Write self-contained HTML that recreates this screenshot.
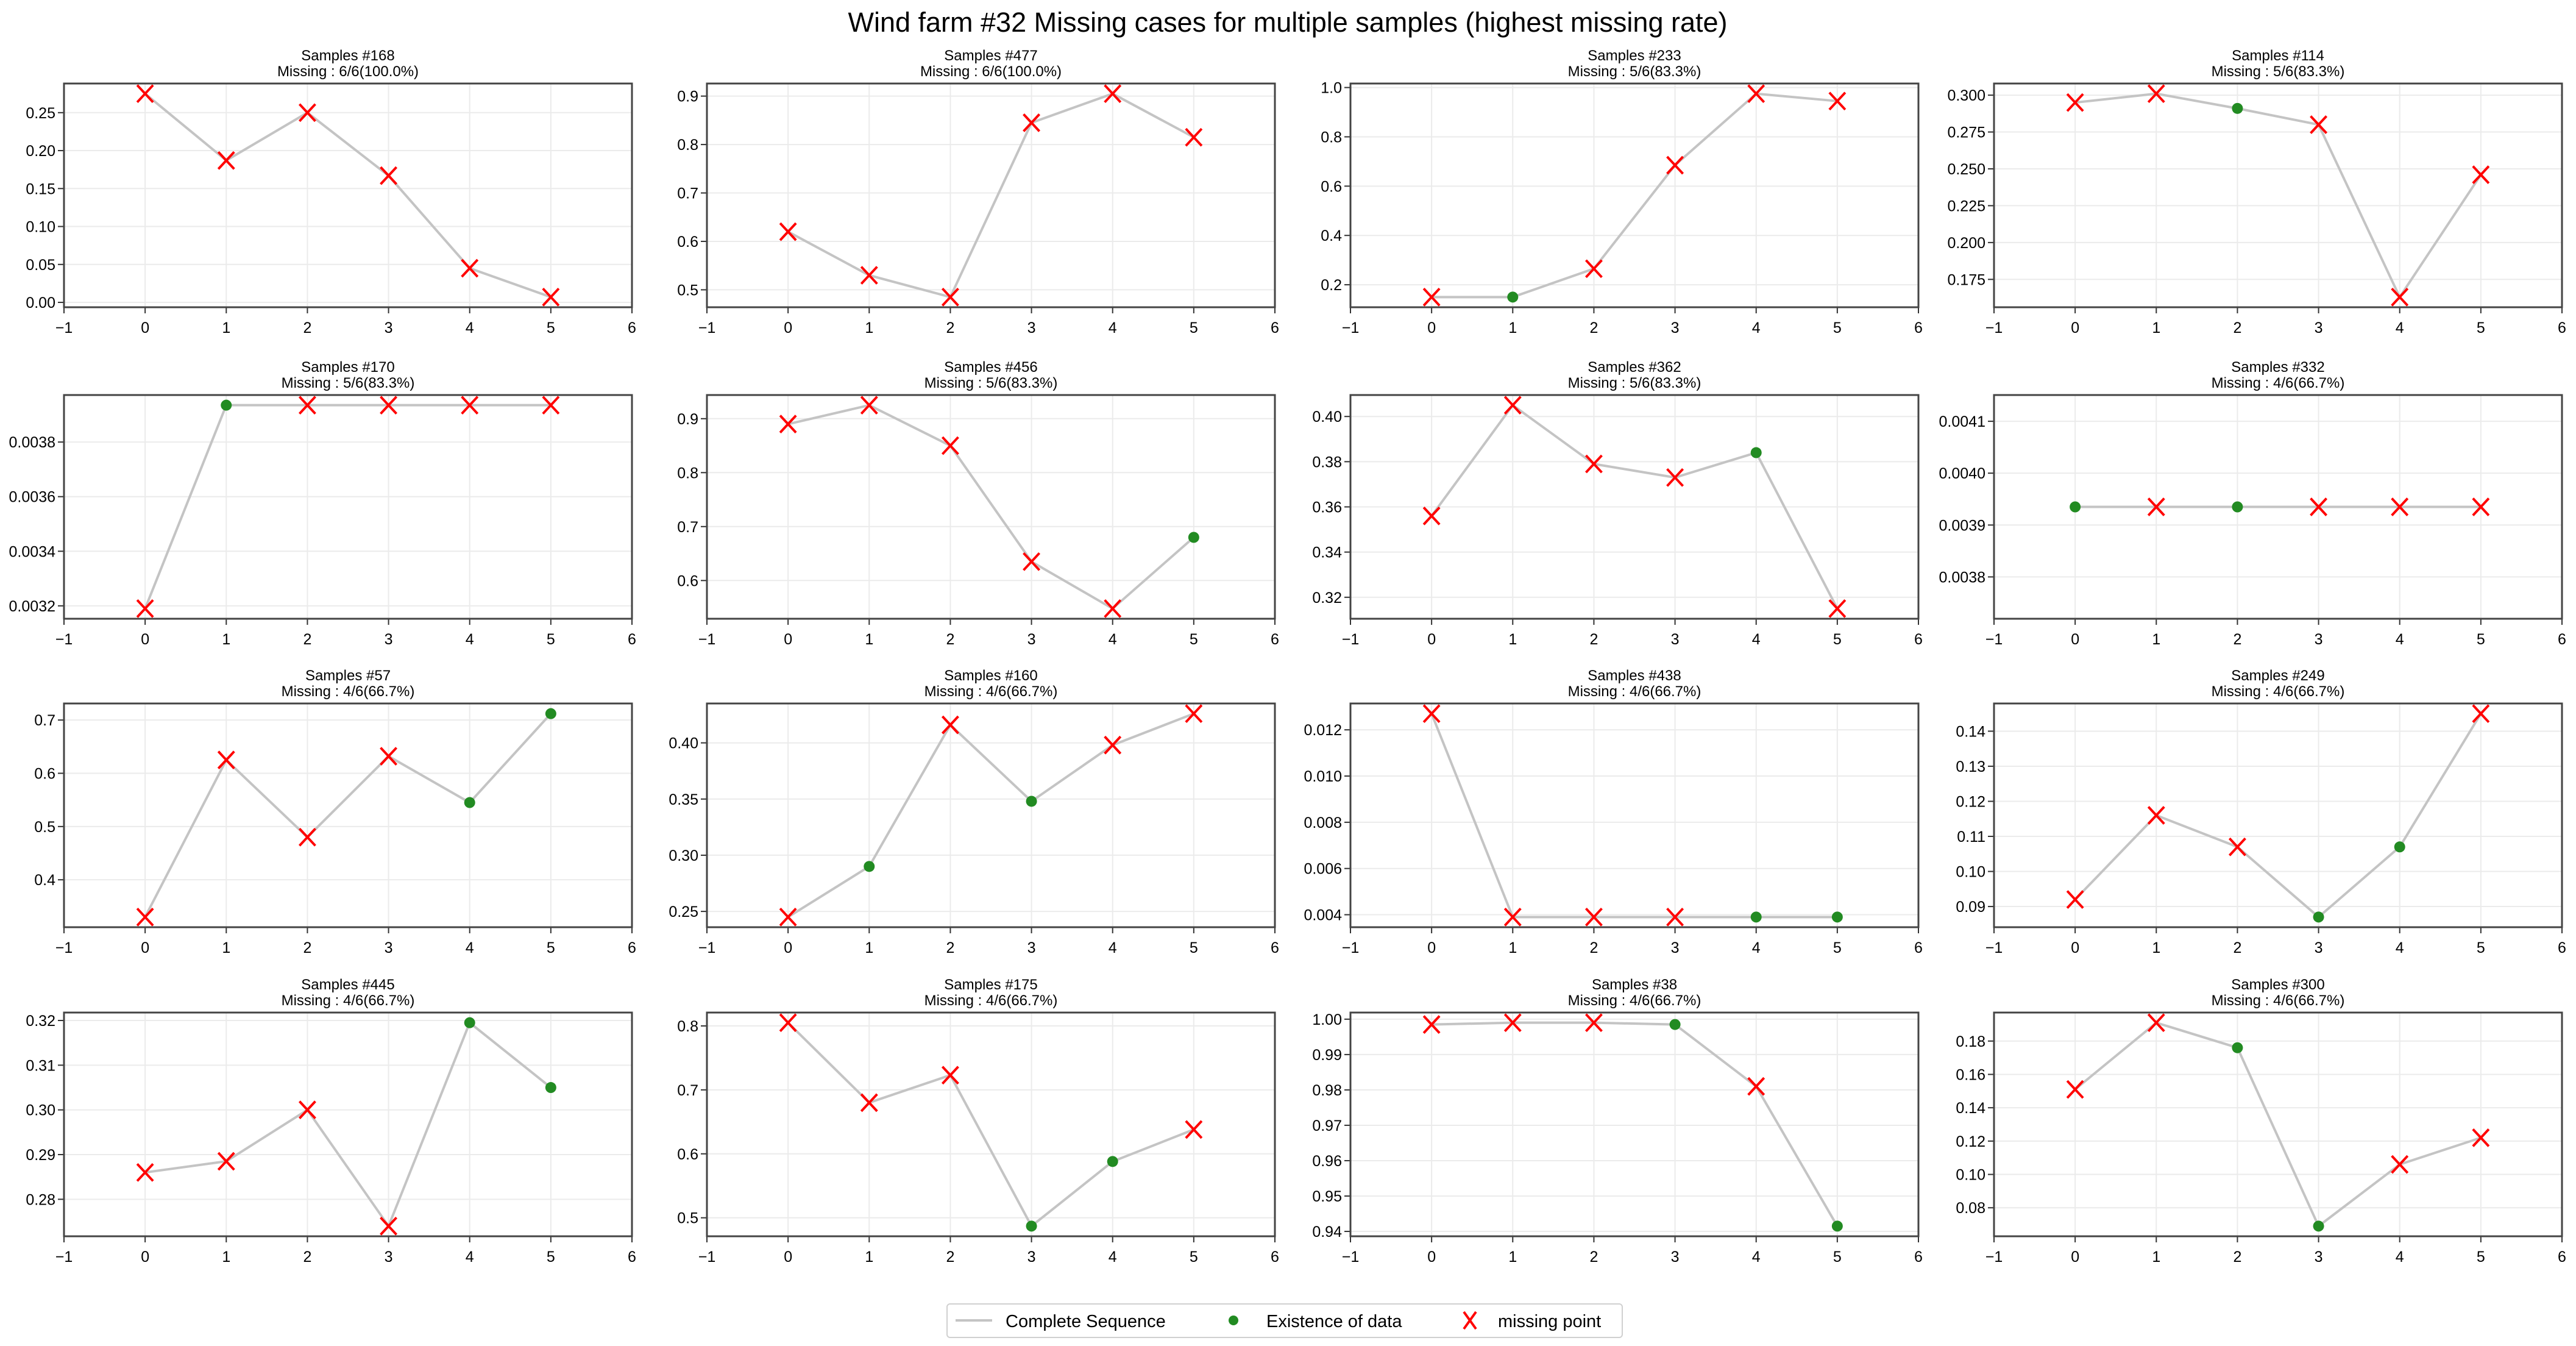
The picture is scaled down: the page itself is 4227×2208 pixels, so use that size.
<!DOCTYPE html>
<html><head><meta charset="utf-8">
<style>
html,body{margin:0;padding:0;background:#fff;}
svg{display:block;font-family:"Liberation Sans",sans-serif;}
</style></head>
<body>
<svg id="fig" width="4227" height="2208" viewBox="0 0 4227 2208" xmlns="http://www.w3.org/2000/svg">
<rect width="4227" height="2208" fill="#fff"/>
<text x="2113" y="52" text-anchor="middle" font-size="45" fill="#000">Wind farm #32 Missing cases for multiple samples (highest missing rate)</text>
<g>
<rect x="1554" y="2139" width="1108" height="55" rx="5" fill="#fff" stroke="#d0d0d0" stroke-width="2"/>
<line x1="1568" y1="2166" x2="1628" y2="2166" stroke="#c4c4c4" stroke-width="4"/>
<text x="1650" y="2177" font-size="29">Complete Sequence</text>
<circle cx="2024" cy="2166" r="8" fill="#228B22"/>
<text x="2078" y="2177" font-size="29">Existence of data</text>
<path d="M2402 2152 L2422 2180 M2422 2152 L2402 2180" stroke="#ff0000" stroke-width="4"/>
<text x="2458" y="2177" font-size="29">missing point</text>
</g>
<g id="plots"></g>
</svg>
<script>
const sampleIds = [168,477,233,114,170,456,362,332,57,160,438,249,445,175,38,300];
const missingLabels = ["6/6(100.0%)","6/6(100.0%)","5/6(83.3%)","5/6(83.3%)","5/6(83.3%)","5/6(83.3%)","5/6(83.3%)","4/6(66.7%)","4/6(66.7%)","4/6(66.7%)","4/6(66.7%)","4/6(66.7%)","4/6(66.7%)","4/6(66.7%)","4/6(66.7%)","4/6(66.7%)"];
const xTicks = [-1,0,1,2,3,4,5,6];
const values0 = [0.275,0.187,0.250,0.167,0.045,0.007];
const values1 = [0.62,0.53,0.485,0.845,0.905,0.815];
const values2 = [0.15,0.15,0.265,0.685,0.975,0.945];
const values3 = [0.295,0.301,0.291,0.280,0.163,0.246];
const values4 = [0.00319,0.003935,0.003935,0.003935,0.003935,0.003935];
const values5 = [0.89,0.925,0.85,0.635,0.548,0.68];
const values6 = [0.356,0.405,0.379,0.373,0.384,0.315];
const values7 = [0.003935,0.003935,0.003935,0.003935,0.003935,0.003935];
const values8 = [0.33,0.625,0.48,0.632,0.545,0.712];
const values9 = [0.245,0.29,0.416,0.348,0.398,0.426];
const values10 = [0.0127,0.0039,0.0039,0.0039,0.0039,0.0039];
const values11 = [0.092,0.116,0.107,0.087,0.107,0.145];
const values12 = [0.286,0.2885,0.300,0.274,0.3195,0.305];
const values13 = [0.805,0.68,0.723,0.487,0.588,0.638];
const values14 = [0.9985,0.999,0.999,0.9985,0.981,0.9415];
const values15 = [0.151,0.191,0.176,0.069,0.106,0.122];
const allValues = [values0,values1,values2,values3,values4,values5,values6,values7,values8,values9,values10,values11,values12,values13,values14,values15];
const presentIdx = [[],[],[1],[2],[1],[5],[4],[0,2],[4,5],[1,3],[4,5],[3,4],[4,5],[3,4],[3,5],[2,3]];
const yTicks = [
 ["0.00","0.05","0.10","0.15","0.20","0.25"],
 ["0.5","0.6","0.7","0.8","0.9"],
 ["0.2","0.4","0.6","0.8","1.0"],
 ["0.175","0.200","0.225","0.250","0.275","0.300"],
 ["0.0032","0.0034","0.0036","0.0038"],
 ["0.6","0.7","0.8","0.9"],
 ["0.32","0.34","0.36","0.38","0.40"],
 ["0.0038","0.0039","0.0040","0.0041"],
 ["0.4","0.5","0.6","0.7"],
 ["0.25","0.30","0.35","0.40"],
 ["0.004","0.006","0.008","0.010","0.012"],
 ["0.09","0.10","0.11","0.12","0.13","0.14"],
 ["0.28","0.29","0.30","0.31","0.32"],
 ["0.5","0.6","0.7","0.8"],
 ["0.94","0.95","0.96","0.97","0.98","0.99","1.00"],
 ["0.08","0.10","0.12","0.14","0.16","0.18"]
];
const NS="http://www.w3.org/2000/svg";
const root=document.getElementById('plots');
function mk(tag,attrs,parent){const e=document.createElementNS(NS,tag);for(const k in attrs)e.setAttribute(k,attrs[k]);parent.appendChild(e);return e;}
const AX_W=932, AX_H=367;
const colLeft=[105,1160,2216,3272];
for(let p=0;p<16;p++){
  const col=p%4,row=Math.floor(p/4);
  const L=colLeft[col], T=[137,648,1154,1661][row];
  const vals=allValues[p];
  let mn=Math.min(...vals),mx=Math.max(...vals),y0,y1;
  if(mx-mn<1e-12){y0=mn*(1-0.0548);y1=mn*(1+0.0548);}else{const pad=(mx-mn)*0.05;y0=mn-pad;y1=mx+pad;}
  const xs=v=>L+(v+1)/7*AX_W;
  const ys=v=>T+AX_H-(v-y0)/(y1-y0)*AX_H;
  const g=mk('g',{},root);
  
  
  const t1=mk('text',{x:L+AX_W/2,y:T-38,'text-anchor':'middle','font-size':24},g);
  t1.textContent='Samples #'+sampleIds[p];
  
  
  const t2=mk('text',{x:L+AX_W/2,y:T-12,'text-anchor':'middle','font-size':24},g);
  t2.textContent='Missing : '+missingLabels[p];
  
  
  xTicks.forEach(v=>{const X=xs(v);
    const gl=mk('line',{x1:X,x2:X,y1:T,y2:T+AX_H,stroke:'#ebebeb','stroke-width':2},g);
    
    
    const tk=mk('line',{x1:X,x2:X,y1:T+AX_H,y2:T+AX_H+10,stroke:'#333','stroke-width':2},g);
    
    
    const tl=mk('text',{x:X,y:T+AX_H+42,'text-anchor':'middle','font-size':25},g);
    tl.textContent=(v<0?'\u2212':'')+Math.abs(v);
    
    
  });
  yTicks[p].forEach(s=>{const v=parseFloat(s);const Y=ys(v);
    const gl=mk('line',{x1:L,x2:L+AX_W,y1:Y,y2:Y,stroke:'#ebebeb','stroke-width':2},g);
    
    
    const tk=mk('line',{x1:L-10,x2:L,y1:Y,y2:Y,stroke:'#333','stroke-width':2},g);
    
    
    const tl=mk('text',{x:L-14,y:Y+9,'text-anchor':'end','font-size':25},g);
    tl.textContent=s;
    
    
  });
  const pts=vals.map((v,i)=>xs(i)+','+ys(v)).join(' ');
  const pl=mk('polyline',{points:pts,fill:'none',stroke:'#c4c4c4','stroke-width':4},g);
  
  
  vals.forEach((v,i)=>{const X=xs(i),Y=ys(v);
    if(presentIdx[p].includes(i)){
      const c=mk('circle',{cx:X,cy:Y,r:9,fill:'#228B22'},g);
      
      
    }else{
      const m=mk('path',{d:`M${X-13} ${Y-14} L${X+13} ${Y+14} M${X+13} ${Y-14} L${X-13} ${Y+14}`,stroke:'#ff0000','stroke-width':4,fill:'none'},g);
      
      
    }
  });
  const fr=mk('rect',{x:L,y:T,width:AX_W,height:AX_H,fill:'none',stroke:'#444','stroke-width':3},g);
  
  
}
</script>
</body></html>
